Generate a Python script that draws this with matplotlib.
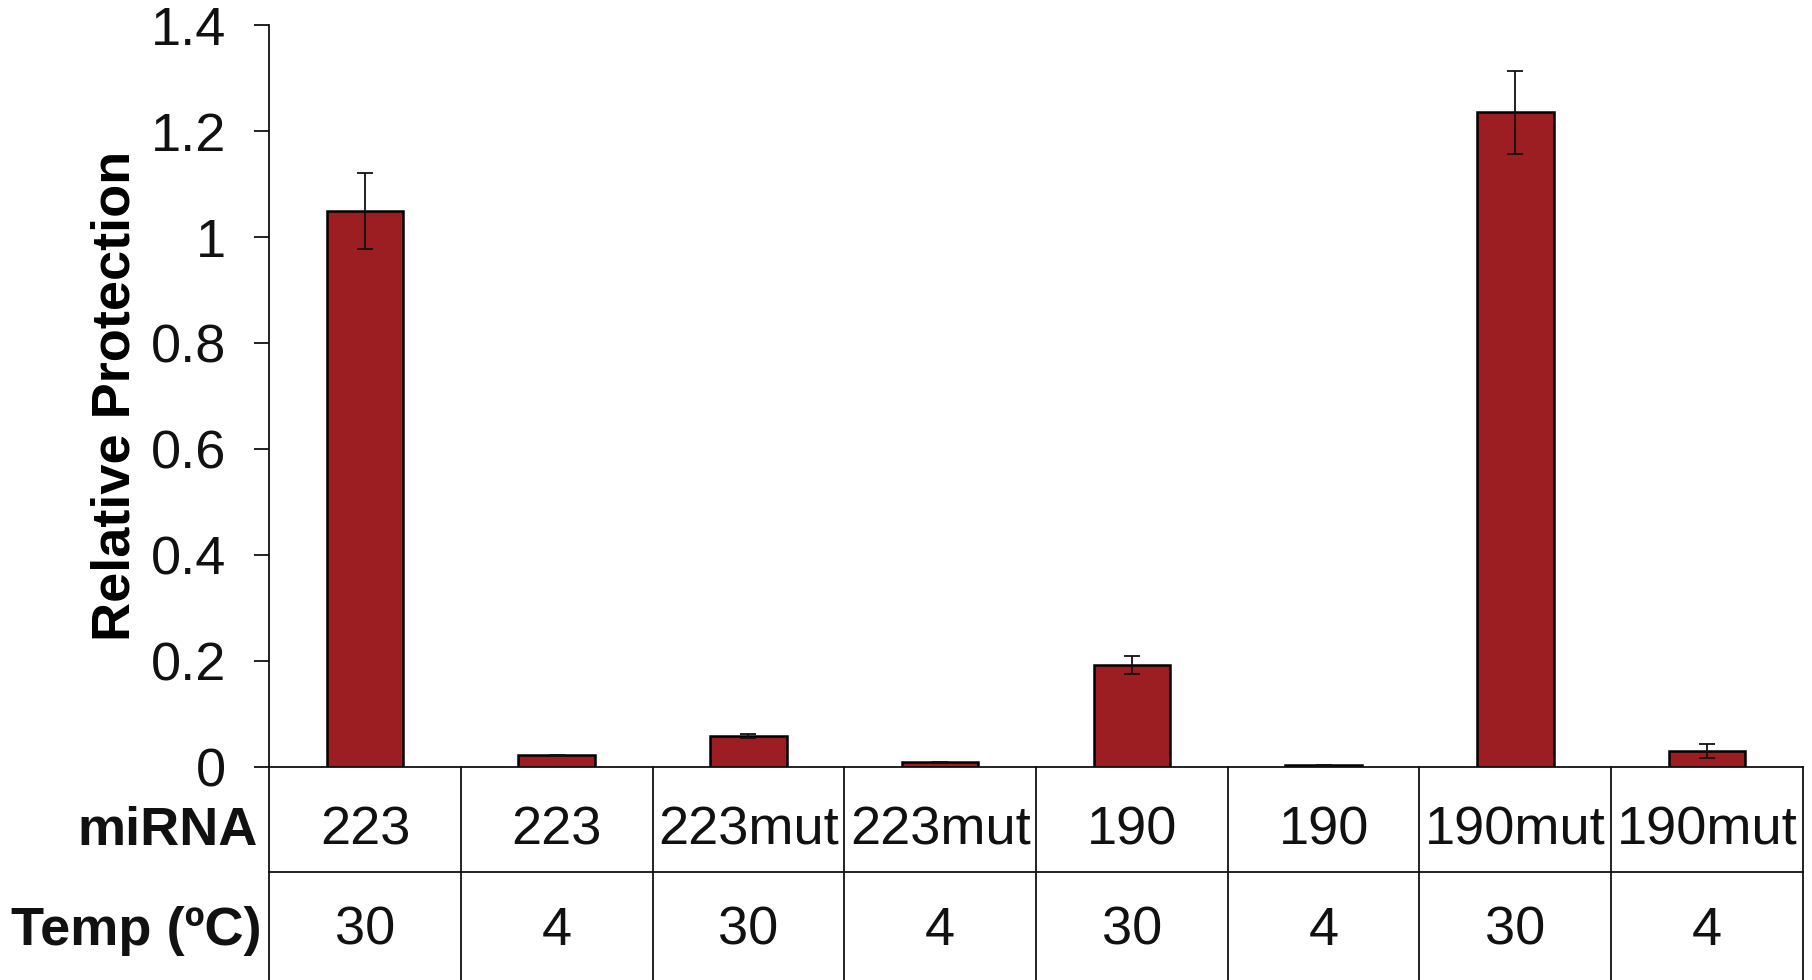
import numpy as np
import matplotlib
matplotlib.use("Agg")
import matplotlib.pyplot as plt

plt.rcParams['font.family'] = ['Liberation Sans', 'DejaVu Sans']

# Protection assay: miRNA constructs at two temperatures
mirna = ["223", "223", "223mut", "223mut", "190", "190", "190mut", "190mut"]
temp = ["30", "4", "30", "4", "30", "4", "30", "4"]
protection = [1.05, 0.022, 0.059, 0.009, 0.192, 0.003, 1.236, 0.0305]
protection_err = [0.072, 0.001, 0.004, 0.001, 0.017, 0.001, 0.078, 0.013]

bar_color = "#9c1d22"
fs = 39

fig = plt.figure(figsize=(18.12, 9.8), dpi=100)
ax = fig.add_axes([0.1485, 0.2173, 0.995 - 0.1485, 0.974 - 0.2173])

x = np.arange(len(mirna))
ax.bar(x, protection, width=0.4, color=bar_color, edgecolor="black", linewidth=1.8,
       yerr=protection_err, capsize=6, error_kw=dict(elinewidth=1.3, capthick=1.3, ecolor="#111111"))

ax.set_xlim(-0.5, len(mirna) - 0.5)
ax.set_ylim(0, 1.4)
ax.set_yticks([0, 0.2, 0.4, 0.6, 0.8, 1.0, 1.2, 1.4])
ax.set_yticklabels(["0", "0.2", "0.4", "0.6", "0.8", "1", "1.2", "1.4"])
ax.tick_params(axis="y", direction="out", length=11, width=1.3, labelsize=fs, pad=20, colors="#111111")
ax.tick_params(axis="x", length=0, labelbottom=False)
for side in ["top", "right"]:
    ax.spines[side].set_visible(False)
for side in ["left", "bottom"]:
    ax.spines[side].set_linewidth(1.3)
    ax.spines[side].set_color("#111111")

ax.set_ylabel("Relative Protection", fontsize=fs, fontweight="bold", labelpad=7)

# table underneath the bars (x in data units, y in axes fraction)
trans = ax.get_xaxis_transform()
row_div = -0.1416
table_bottom = -0.30
line_kw = dict(color="#111111", linewidth=1.3, clip_on=False, transform=trans)
ax.plot([-0.5, len(mirna) - 0.5], [row_div, row_div], **line_kw)
for b in np.arange(len(mirna) + 1) - 0.5:
    ax.plot([b, b], [0, table_bottom], **line_kw)

row1_y = -0.0858
row2_y = -0.2205
for xi, m, t in zip(x, mirna, temp):
    ax.text(xi, row1_y, m, ha="center", va="center", fontsize=fs, transform=trans, color="#111111")
    ax.text(xi, row2_y, t, ha="center", va="center", fontsize=fs, transform=trans, color="#111111")

ax.text(-0.56, row1_y, "miRNA", ha="right", va="center", fontsize=fs, fontweight="bold",
        transform=trans, color="#111111")
ax.text(-0.54, row2_y, "Temp (ºC)", ha="right", va="center", fontsize=fs, fontweight="bold",
        transform=trans, color="#111111")

fig.savefig("out.png", dpi=100)
